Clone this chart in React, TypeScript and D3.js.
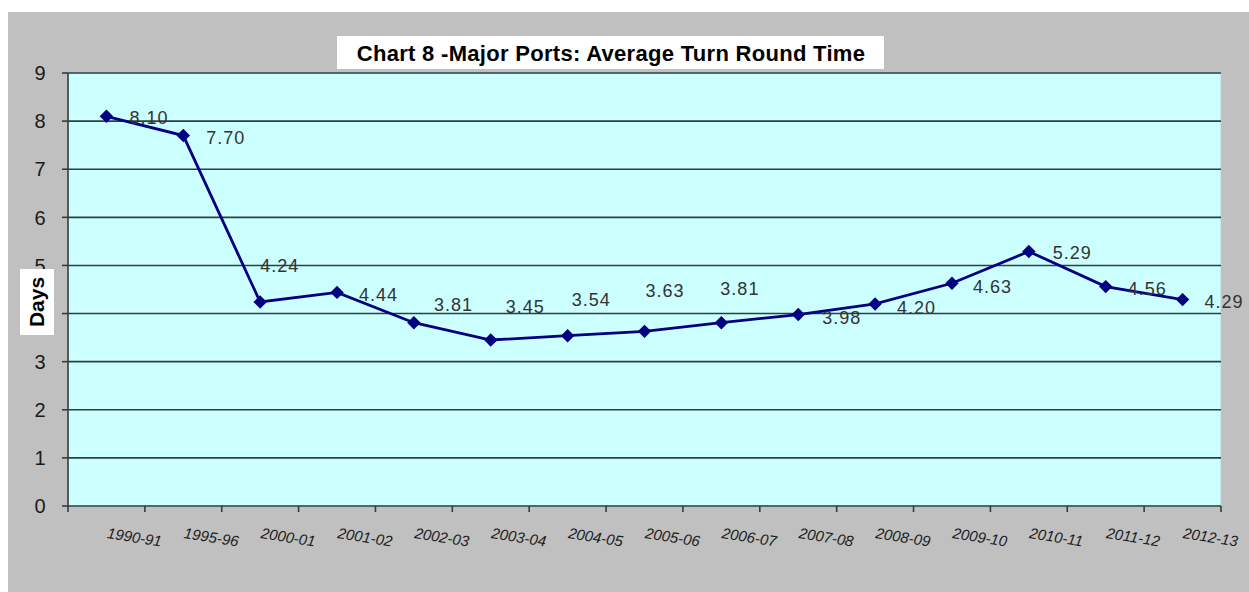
import React from "react";
import * as d3 from "d3";

const categories = [
  "1990-91", "1995-96", "2000-01", "2001-02", "2002-03", "2003-04", "2004-05",
  "2005-06", "2006-07", "2007-08", "2008-09", "2009-10", "2010-11", "2011-12", "2012-13",
];
const values = [8.1, 7.7, 4.24, 4.44, 3.81, 3.45, 3.54, 3.63, 3.81, 3.98, 4.2, 4.63, 5.29, 4.56, 4.29];
const yTicks = [0, 1, 2, 3, 4, 5, 6, 7, 8, 9];
// label offsets (pixels from the marker) as placed in the original
const labelDx = [23, 23, 0, 22, 20, 15, 4, 1, -1, 24, 22, 21, 24, 22, 22];
const labelDy = [8, 8, -30, 9, -12, -27, -30, -34, -28, 9, 10, 10, 8, 8, 8];

const W = 1249;
const H = 592;
const FONT = "Arial, 'Liberation Sans', sans-serif";

export default function App() {
  const left = 68, right = 1221, top = 73, bottom = 506;
  const x = d3.scaleBand<string>().domain(categories).range([left, right]).paddingInner(0).paddingOuter(0);
  const y = d3.scaleLinear().domain([0, 9]).range([bottom, top]);
  const cx = (c: string) => (x(c) as number) + x.bandwidth() / 2;
  const pts: [number, number][] = categories.map((c, i) => [cx(c), y(values[i])]);
  const line = d3.line()(pts) as string;
  const boundaries = categories.map((c) => x(c) as number).concat([right]);
  const diamond = d3.symbol().type(d3.symbolDiamond2).size(115)() as string;

  return (
    <svg width={W} height={H} style={{ position: "absolute", left: 0, top: 0, background: "#fff" }} fontFamily={FONT}>
      <rect x={8} y={12} width={W - 8} height={H - 12} fill="#c0c0c0" />
      <rect x={left} y={top} width={right - left} height={bottom - top} fill="#ccffff" stroke="#b8d0d0" strokeWidth={1} />
      {yTicks.filter((t) => t > 0).map((t) => (
        <line key={"g" + t} x1={left} x2={right} y1={y(t)} y2={y(t)} stroke="#2f3f3f" strokeWidth={1.6} />
      ))}
      {/* y axis */}
      <line x1={left} x2={left} y1={top} y2={bottom} stroke="#2f3f3f" strokeWidth={1.6} />
      {yTicks.map((t) => (
        <g key={"yt" + t}>
          <line x1={left - 6} x2={left} y1={y(t)} y2={y(t)} stroke="#2f3f3f" strokeWidth={1.6} />
          <text x={40} y={y(t)} dy="0.36em" textAnchor="middle" fontSize={20} fill="#1a1a1a">{t}</text>
        </g>
      ))}
      {/* x axis */}
      <line x1={left} x2={right} y1={bottom} y2={bottom} stroke="#2f3f3f" strokeWidth={1.6} />
      {boundaries.map((b, i) => (
        <line key={"xt" + i} x1={b} x2={b} y1={bottom} y2={bottom + 6} stroke="#2f3f3f" strokeWidth={1.6} />
      ))}
      {categories.map((c) => (
        <text key={"xl" + c} transform={`translate(${cx(c)},${538}) rotate(9)`} fontSize={15} fontStyle="italic" fill="#1a1a1a">{c}</text>
      ))}
      {/* series */}
      <path d={line} fill="none" stroke="#000080" strokeWidth={2.8} />
      {pts.map(([px, py], i) => (
        <path key={"m" + i} d={diamond} transform={`translate(${px},${py})`} fill="#000080" />
      ))}
      {pts.map(([px, py], i) => (
        <text key={"dl" + i} x={px + labelDx[i]} y={py + labelDy[i]} fontSize={18} letterSpacing={1} fill="#333">{values[i].toFixed(2)}</text>
      ))}
      {/* title */}
      <rect x={337} y={36} width={547} height={33} fill="#fff" />
      <text x={611} y={61} textAnchor="middle" fontSize={22} fontWeight="bold" letterSpacing={0.3} fill="#000">Chart 8 -Major Ports: Average Turn Round Time</text>
      {/* y axis title */}
      <rect x={20} y={269} width={34} height={66} fill="#fff" />
      <text transform={`translate(${44},${302}) rotate(-90)`} textAnchor="middle" fontSize={21} fontWeight="bold" fill="#000">Days</text>
    </svg>
  );
}
